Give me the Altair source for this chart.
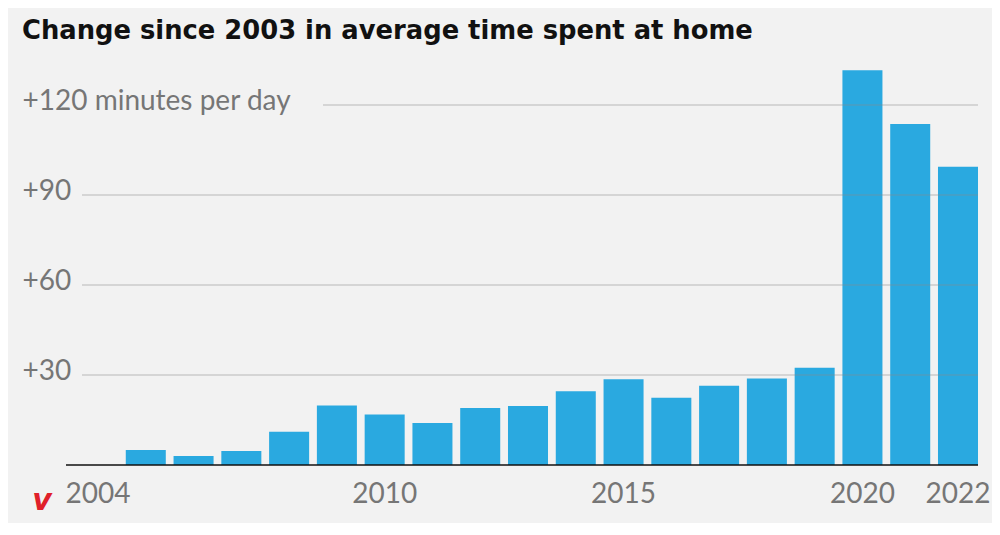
import altair as alt
import pandas as pd

years = list(range(2004, 2023))
minutes = [0, 5.0, 3.0, 4.7, 11.1, 19.8, 16.8, 14.0, 19.0, 19.7, 24.6, 28.6,
           22.4, 26.4, 28.8, 32.4, 131.6, 113.7, 99.4]
x_ticks = [2004, 2010, 2015, 2020, 2022]
grid_short = [30, 60, 90]
grid_long = [120]
title_text = ["Change since 2003 in average time spent at home"]

df = pd.DataFrame({"year": [str(y) for y in years], "minutes": minutes})

W, H = 900, 420
GRAY = "#767676"
FONT = "Lato"
FS = 28

yscale = alt.Scale(domain=[0, 140], nice=False)
xscale = alt.Scale(paddingInner=0.1625, paddingOuter=0)

bars = alt.Chart(df).mark_bar(color="#2aa9e0").encode(
    x=alt.X("year:O", scale=xscale,
            axis=alt.Axis(values=[str(v) for v in x_ticks], title=None, labelAngle=0,
                          ticks=False, tickSize=0, domain=False, labelPadding=15,
                          labelFontSize=FS, labelColor=GRAY, labelFont=FONT,
                          labelFontWeight="normal")),
    y=alt.Y("minutes:Q", scale=yscale,
            axis=alt.Axis(values=[30, 60, 90, 120], title=None, grid=False, ticks=False,
                          tickSize=0, domain=False, labelAlign="left", labelPadding=56,
                          labelBaseline="middle", labelOffset=-4, labelLimit=0,
                          labelExpr="datum.value == 120 ? '+120 minutes per day' : '+' + datum.value",
                          labelFontSize=FS, labelColor=GRAY, labelFont=FONT)),
)

g1 = alt.Chart(pd.DataFrame({"v": grid_short})).mark_rule(
    color="#8a8a8a", opacity=0.55, strokeWidth=1
).encode(y=alt.Y("v:Q", scale=yscale), x=alt.value(4), x2=alt.value(W))

g2 = alt.Chart(pd.DataFrame({"v": grid_long})).mark_rule(
    color="#8a8a8a", opacity=0.55, strokeWidth=1
).encode(y=alt.Y("v:Q", scale=yscale), x=alt.value(245), x2=alt.value(W))

base = alt.Chart(pd.DataFrame({"v": [0]})).mark_rule(
    color="#111111", strokeWidth=1.6
).encode(y=alt.Y("v:Q", scale=yscale), x=alt.value(-12), x2=alt.value(W))

logo = alt.Chart(pd.DataFrame({"t": ["v"]})).mark_text(
    color="#e0202a", fontSize=30, fontWeight="bold", fontStyle="italic",
    font="DejaVu Sans", align="center", baseline="middle"
).encode(text="t:N", x=alt.value(-36), y=alt.value(H + 36))

title = alt.Chart(pd.DataFrame({"t": title_text})).mark_text(
    color="#111111", fontSize=25.8, fontWeight="bold", font="DejaVu Sans",
    align="left", baseline="alphabetic"
).encode(text="t:N", x=alt.value(-56), y=alt.value(-6))

chart = alt.layer(bars, g1, g2, base, logo, title).properties(
    width=W, height=H,
    autosize=alt.AutoSizeParams(type="none"),
    padding={"left": 70, "top": 37, "right": 14, "bottom": 58},
).configure(background="#f2f2f2").configure_view(stroke=None)

chart.save("out.html", embed_options={"renderer": "svg", "actions": False})
